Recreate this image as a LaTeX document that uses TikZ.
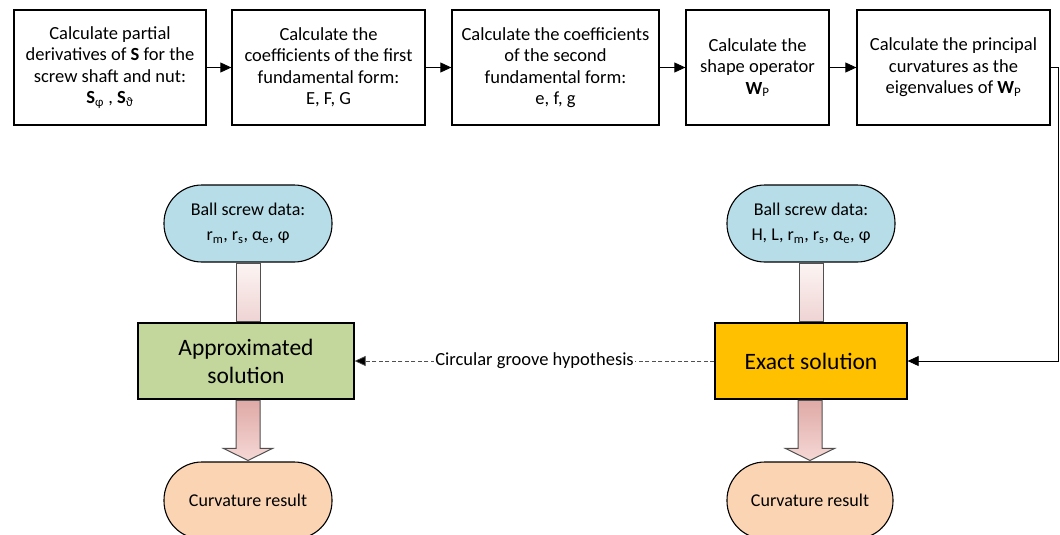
\documentclass[tikz,border=0pt]{standalone}
\usepackage{fontspec}
\setmainfont{Carlito}
\usetikzlibrary{arrows.meta,calc}
\definecolor{bluefill}{HTML}{B7DEE8}
\definecolor{greenfill}{HTML}{C3D69B}
\definecolor{orangefill}{HTML}{FFC000}
\definecolor{peachfill}{HTML}{FBD4B4}
\definecolor{shaftA}{HTML}{FCF5F3}
\definecolor{shaftB}{HTML}{EFD3D3}
\definecolor{shaftC}{HTML}{DFA9A6}
\definecolor{shaftD}{HTML}{F5D8D5}
\definecolor{lineg}{HTML}{505050}
\tikzset{
  stepbox/.style={draw=black, line width=1.3pt, fill=white, align=center, inner sep=0pt,
    minimum height=115pt, font=\fontsize{18.5}{21.5}\selectfont},
  term/.style={draw=black, line width=1.1pt, rounded corners=38pt, align=center, inner sep=0pt,
    minimum width=168pt, minimum height=77pt, font=\fontsize{18}{25}\selectfont},
  solbox/.style={draw=black, line width=1.3pt, align=center, inner sep=0pt,
    minimum height=76pt, font=\fontsize{23.5}{28}\selectfont},
  conn/.style={draw=black, line width=0.8pt, -{Triangle[length=11pt,width=10pt]}},
  blockarrow/.style={draw=lineg, line width=1pt},
}
\begin{document}
\begin{tikzpicture}[x=1pt,y=-1pt]
\useasboundingbox (0,0) rectangle (1060,535);
\begin{scope}
\clip (0,0) rectangle (1060,535);
% top row
\node[stepbox, minimum width=192pt] (s1) at (110,67.5) {Calculate partial\\derivatives of \textbf{S} for the\\screw shaft and nut:\\\textbf{S}\textsubscript{φ} , \textbf{S}\textsubscript{ϑ}};
\node[stepbox, minimum width=193pt] (s2) at (328.5,67.5) {Calculate the\\coefficients of the first\\fundamental form:\\E, F, G};
\node[stepbox, minimum width=207pt] (s3) at (555.5,67.5) {Calculate the coefficients\\of the second\\fundamental form:\\e, f, g};
\node[stepbox, minimum width=143pt] (s4) at (757.5,67.5) {Calculate the\\shape operator\\\textbf{W}\textsubscript{P}};
\node[stepbox, minimum width=193pt] (s5) at (953.5,67.5) {Calculate the principal\\curvatures as the\\eigenvalues of \textbf{W}\textsubscript{P}};
\draw[conn] (s1) -- (s2);
\draw[conn] (s2) -- (s3);
\draw[conn] (s3) -- (s4);
\draw[conn] (s4) -- (s5);

% lower nodes
\node[term, fill=bluefill] (d1) at (248,223.5) {Ball screw data:\\r\textsubscript{m}, r\textsubscript{s}, α\textsubscript{e}, φ};
\node[term, fill=bluefill] (d2) at (811,223.5) {Ball screw data:\\H, L, r\textsubscript{m}, r\textsubscript{s}, α\textsubscript{e}, φ};
\node[solbox, fill=greenfill, minimum width=216pt] (ap) at (246,361) {Approximated\\solution};
\node[solbox, fill=orangefill, minimum width=192pt] (ex) at (811,361) {Exact solution};
\node[term, fill=peachfill] (c1) at (248,500.5) {Curvature result};
\node[term, fill=peachfill, minimum width=166pt] (c2) at (810,500.5) {Curvature result};

% block arrows data -> solution (shafts only)
\foreach \d/\s in {d1/ap, d2/ex}{
  \shade[top color=shaftA, bottom color=shaftB, blockarrow]
    ($(\d.south)+(-12,0.7)$) rectangle ($(\d.south |- \s.north)+(12,-0.7)$);
}
% block arrows solution -> result
\foreach \s/\c in {ap/c1, ex/c2}{
  \shade[top color=shaftC, bottom color=shaftD, blockarrow]
    ($(\c.north |- \s.south)+(-12,0.7)$) -- ($(\c.north)+(-12,-13)$) -- ($(\c.north)+(-24.5,-13)$)
    -- ($(\c.north)+(0,-1)$) -- ($(\c.north)+(24.5,-13)$) -- ($(\c.north)+(12,-13)$)
    -- ($(\c.north |- \s.south)+(12,0.7)$) -- cycle;
}

% elbow connector
\coordinate (elb) at ($(s5.east)+(8,0)$);
\draw[conn] (s5.east) -- (elb) |- (ex.east);

% dashed hypothesis connector
\draw[draw=lineg, line width=0.7pt, dash pattern=on 4pt off 2.5pt, -{Triangle[length=11pt,width=10pt,fill=black]}] (ex.west) -- node[fill=white, inner sep=1pt, text=black, font=\fontsize{18.5}{20}\selectfont] (hyp) {Circular groove hypothesis} (ap.east);
\end{scope}
\end{tikzpicture}
\end{document}
